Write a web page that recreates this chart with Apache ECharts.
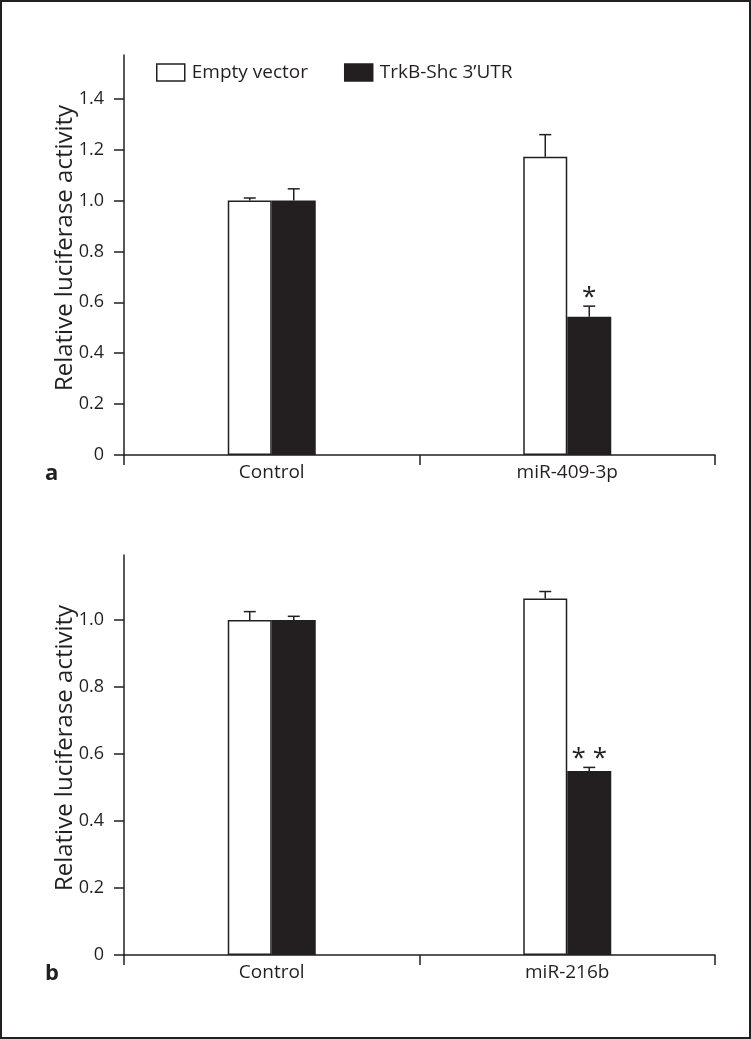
<!DOCTYPE html>
<html>
<head>
<meta charset="utf-8">
<script src="https://cdn.jsdelivr.net/npm/echarts@6/dist/echarts.min.js"></script>
<style>
html,body{margin:0;padding:0;background:#fff;}
#chart{width:751px;height:1039px;}
</style>
</head>
<body>
<div id="chart"></div>
<script>
// ---- data ----
var seriesNames = ['Empty vector', 'TrkB-Shc 3\u2019UTR'];
var yAxisName = 'Relative luciferase activity';

var categoriesA = ['Control', 'miR-409-3p'];
var emptyA = [1.0, 1.172];
var emptyErrA = [0.010, 0.087];
var trkbA = [1.0, 0.543];
var trkbErrA = [0.046, 0.042];
var sigA = ['', '*'];
var yTicksA = [0, 0.2, 0.4, 0.6, 0.8, 1.0, 1.2, 1.4];

var categoriesB = ['Control', 'miR-216b'];
var emptyB = [1.0, 1.064];
var emptyErrB = [0.025, 0.021];
var trkbB = [1.0, 0.549];
var trkbErrB = [0.011, 0.011];
var sigB = ['', '* *'];
var yTicksB = [0, 0.2, 0.4, 0.6, 0.8, 1.0];

var panelLabels = ['a', 'b'];

// ---- styling ----
var INK = '#231f20';
var FONT = '"Open Sans", "Noto Sans", sans-serif';
var BAR_W = 44;

function rows(vals, errs, sig) {
  return vals.map(function (v, i) { return [i, v, errs[i], sig ? sig[i] : '']; });
}

function errSeries(idx, vals, errs, offset, sig) {
  return {
    type: 'custom',
    xAxisIndex: idx, yAxisIndex: idx,
    silent: true, z: 5,
    encode: { x: 0, y: 1 },
    data: rows(vals, errs, sig),
    renderItem: function (params, api) {
      var c = api.value(0), v = api.value(1), e = api.value(2);
      var s = sig ? sig[c] : '';
      var p0 = api.coord([c, v]);
      var p1 = api.coord([c, v + e]);
      var x = p0[0] + offset;
      var children = [
        { type: 'line', shape: { x1: x, y1: p0[1], x2: x, y2: p1[1] }, style: { stroke: INK, lineWidth: 1.5 } },
        { type: 'line', shape: { x1: x - 6, y1: p1[1], x2: x + 6, y2: p1[1] }, style: { stroke: INK, lineWidth: 1.5 } }
      ];
      if (s) {
        children.push({ type: 'text', x: x, y: p1[1] - 9,
          style: { text: s, fill: INK, font: '26px ' + FONT, align: 'center', verticalAlign: 'middle' } });
      }
      return { type: 'group', children: children };
    }
  };
}

function yAxisOf(idx, max, ticks) {
  return {
    type: 'value', gridIndex: idx, min: 0, max: max,
    name: yAxisName, nameLocation: 'middle', nameGap: 47, nameMoveOverlap: false,
    nameTextStyle: { color: INK, fontSize: 24, fontFamily: FONT, padding: [0, 0, 0, 14] },
    axisLine: { show: true, lineStyle: { color: INK, width: 1.5 } },
    axisTick: { show: true, length: 10, lineStyle: { color: INK, width: 1.5 }, customValues: ticks },
    axisLabel: { color: INK, fontSize: 18, fontFamily: FONT, margin: 20, customValues: ticks,
      formatter: function (v) { return v === 0 ? '0' : v.toFixed(1); } },
    splitLine: { show: false }
  };
}

function xAxisOf(idx, cats) {
  return {
    type: 'category', gridIndex: idx, data: cats,
    axisLine: { show: true, lineStyle: { color: INK, width: 1.5 } },
    axisTick: { show: true, length: 10, lineStyle: { color: INK, width: 1.5 } },
    axisLabel: { color: INK, fontSize: 19, fontFamily: FONT, margin: 8 }
  };
}

function barSeries(idx, name, vals, fill) {
  return {
    type: 'bar', name: name, xAxisIndex: idx, yAxisIndex: idx,
    data: vals, barWidth: BAR_W, barGap: '0%',
    itemStyle: { color: fill, borderColor: INK, borderWidth: 1.5 },
    emphasis: { disabled: true }
  };
}

var chart = echarts.init(document.getElementById('chart'), null, { renderer: 'canvas' });
chart.setOption({
  animation: false,
  backgroundColor: '#fff',
  textStyle: { fontFamily: FONT },
  legend: {
    left: 156, top: 63, padding: 0, itemWidth: 28, itemHeight: 17, itemGap: 36, icon: 'rect',
    data: seriesNames,
    textStyle: { color: INK, fontSize: 19, fontFamily: FONT, padding: [0, 0, 0, 2] },
    itemStyle: { borderColor: INK, borderWidth: 1.5 }
  },
  grid: [
    { left: 124, right: 36, top: 55, height: 400 },
    { left: 124, right: 36, top: 555, height: 400 }
  ],
  xAxis: [xAxisOf(0, categoriesA), xAxisOf(1, categoriesB)],
  yAxis: [yAxisOf(0, 1.572, yTicksA), yAxisOf(1, 1.194, yTicksB)],
  series: [
    barSeries(0, seriesNames[0], emptyA, '#ffffff'),
    barSeries(0, seriesNames[1], trkbA, INK),
    errSeries(0, emptyA, emptyErrA, -BAR_W / 2, null),
    errSeries(0, trkbA, trkbErrA, BAR_W / 2, sigA),
    barSeries(1, seriesNames[0], emptyB, '#ffffff'),
    barSeries(1, seriesNames[1], trkbB, INK),
    errSeries(1, emptyB, emptyErrB, -BAR_W / 2, null),
    errSeries(1, trkbB, trkbErrB, BAR_W / 2, sigB)
  ],
  graphic: [
    { type: 'rect', shape: { x: 1, y: 1, width: 749, height: 1037 }, style: { fill: 'none', stroke: INK, lineWidth: 2 }, silent: true },
    { type: 'text', left: 45, top: 463, style: { text: panelLabels[0], fill: INK, font: 'bold 22px ' + FONT } },
    { type: 'text', left: 45, top: 963, style: { text: panelLabels[1], fill: INK, font: 'bold 22px ' + FONT } }
  ]
});
</script>
</body>
</html>
